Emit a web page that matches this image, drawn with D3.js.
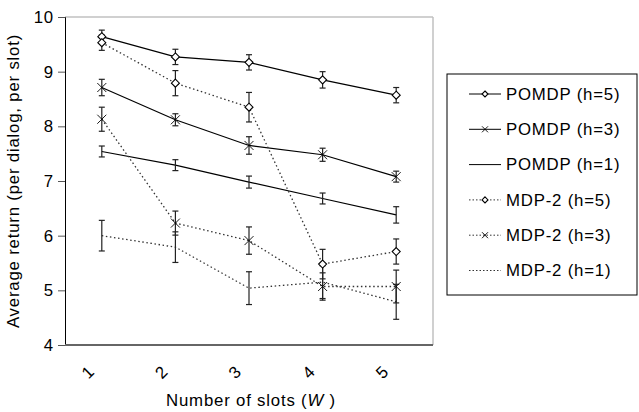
<!DOCTYPE html>
<html>
<head>
<meta charset="utf-8">
<script src="https://cdn.jsdelivr.net/npm/d3@7"></script>
<style>
  body { margin: 0; background: #fff; }
  svg { font-family: "Liberation Sans", Arial, sans-serif; }
  svg text { letter-spacing: 0.8px; }
</style>
</head>
<body>
<div id="chart"></div>
<script>
// values
var slots = ["1", "2", "3", "4", "5"];
var yTicks = [4, 5, 6, 7, 8, 9, 10];

var seriesNames = ["POMDP (h=5)", "POMDP (h=3)", "POMDP (h=1)", "MDP-2 (h=5)", "MDP-2 (h=3)", "MDP-2 (h=1)"];
var seriesMarker = ["diamond", "cross", "none", "diamond", "cross", "none"];
var seriesDotted = [false, false, false, true, true, true];

var pomdp5 = [9.64, 9.27, 9.17, 8.85, 8.57];
var pomdp3 = [8.71, 8.12, 7.65, 7.48, 7.08];
var pomdp1 = [7.54, 7.29, 6.98, 6.68, 6.38];
var mdp5   = [9.53, 8.79, 8.35, 5.48, 5.71];
var mdp3   = [8.13, 6.23, 5.91, 5.07, 5.07];
var mdp1   = [6.00, 5.79, 5.04, 5.15, 4.79];

var pomdp5Err = [0.12, 0.14, 0.14, 0.15, 0.14];
var pomdp3Err = [0.15, 0.11, 0.16, 0.12, 0.10];
var pomdp1Err = [0.10, 0.10, 0.11, 0.10, 0.15];
var mdp5Err   = [0.14, 0.23, 0.27, 0.27, 0.23];
var mdp3Err   = [0.22, 0.22, 0.25, 0.25, 0.30];
var mdp1Err   = [0.28, 0.28, 0.30, 0.30, 0.32];

var allValues = [pomdp5, pomdp3, pomdp1, mdp5, mdp3, mdp1];
var allErrors = [pomdp5Err, pomdp3Err, pomdp1Err, mdp5Err, mdp3Err, mdp1Err];

var W = 639, H = 412;
var fontSize = 16.8;
var margin = {top: 17, right: 206, bottom: 67, left: 65};
var width = W - margin.left - margin.right;   // 368
var height = H - margin.top - margin.bottom;  // 328

var svg = d3.select("#chart").append("svg")
    .attr("width", W)
    .attr("height", H);

var g = svg.append("g")
    .attr("transform", "translate(" + margin.left + "," + margin.top + ")");

var x = d3.scaleBand().domain(slots).range([0, width]);
var y = d3.scaleLinear().domain([4, 10]).range([height, 0]);
var cx = function(i) { return x(slots[i]) + x.bandwidth() / 2; };

// frame: light top/right, dark bottom
g.append("line").attr("x1", 0).attr("x2", width).attr("y1", 0).attr("y2", 0)
    .attr("stroke", "#c0c0c0").attr("stroke-width", 1.5);
g.append("line").attr("x1", width).attr("x2", width).attr("y1", 0).attr("y2", height)
    .attr("stroke", "#c0c0c0").attr("stroke-width", 1.5);

// y axis
var yAxis = d3.axisLeft(y).tickValues(yTicks).tickFormat(d3.format("d")).tickSize(7).tickPadding(4);
var yAxisG = g.append("g").call(yAxis);
yAxisG.select(".domain").attr("stroke", "#000");
yAxisG.selectAll(".tick line").attr("stroke", "#555");
yAxisG.selectAll("text").attr("font-size", fontSize).attr("fill", "#000")
    .attr("font-family", "'Liberation Sans', Arial, sans-serif");

// x axis (bottom line + rotated labels)
g.append("line").attr("x1", 0).attr("x2", width).attr("y1", height).attr("y2", height)
    .attr("stroke", "#666").attr("stroke-width", 2);

g.selectAll(".xlab").data(slots).enter().append("text")
    .attr("class", "xlab")
    .attr("font-size", fontSize)
    .attr("text-anchor", "middle")
    .attr("transform", function(d, i) {
        return "translate(" + (cx(i) - 14) + "," + (height + 27) + ") rotate(-45)";
    })
    .attr("dy", "0.35em")
    .text(function(d) { return d; });

// axis titles
var xt = svg.append("text")
    .attr("x", margin.left + width / 2 + 2)
    .attr("y", 406)
    .attr("text-anchor", "middle")
    .attr("font-size", fontSize);
xt.append("tspan").text("Number of slots (");
xt.append("tspan").attr("font-style", "italic").text("W");
xt.append("tspan").text(" )");

svg.append("text")
    .attr("transform", "translate(19," + (margin.top + height / 2) + ") rotate(-90)")
    .attr("text-anchor", "middle")
    .attr("font-size", fontSize)
    .text("Average return (per dialog, per slot)");

// lines
var line = d3.line()
    .x(function(d, i) { return cx(i); })
    .y(function(d) { return y(d); });

allValues.forEach(function(vals, s) {
    g.append("path")
        .datum(vals)
        .attr("d", line)
        .attr("fill", "none")
        .attr("stroke", seriesDotted[s] ? "#333" : "#000")
        .attr("stroke-width", seriesDotted[s] ? 1.3 : 1.2)
        .attr("stroke-dasharray", seriesDotted[s] ? "1.5,2.6" : null);
});

// error bars
allValues.forEach(function(vals, s) {
    var eg = g.append("g").attr("stroke", "#222").attr("stroke-width", 1.2);
    vals.forEach(function(v, i) {
        var e = allErrors[s][i];
        var px = cx(i);
        eg.append("line").attr("x1", px).attr("x2", px).attr("y1", y(v - e)).attr("y2", y(v + e));
        eg.append("line").attr("x1", px - 3).attr("x2", px + 3).attr("y1", y(v - e)).attr("y2", y(v - e));
        eg.append("line").attr("x1", px - 3).attr("x2", px + 3).attr("y1", y(v + e)).attr("y2", y(v + e));
    });
});

function drawMarker(sel, type, px, py, r) {
    if (type === "diamond") {
        sel.append("path")
            .attr("d", "M" + px + "," + (py - r) + "L" + (px + r) + "," + py + "L" + px + "," + (py + r) + "L" + (px - r) + "," + py + "Z")
            .attr("fill", "#fff").attr("stroke", "#000").attr("stroke-width", 1.1);
    } else if (type === "cross") {
        sel.append("path")
            .attr("d", "M" + (px - r) + "," + (py - r) + "L" + (px + r) + "," + (py + r) + "M" + (px - r) + "," + (py + r) + "L" + (px + r) + "," + (py - r))
            .attr("fill", "none").attr("stroke", "#000").attr("stroke-width", 0.9);
    }
}

// markers
allValues.forEach(function(vals, s) {
    vals.forEach(function(v, i) {
        drawMarker(g, seriesMarker[s], cx(i), y(v), seriesMarker[s] === "cross" ? 4.5 : 4);
    });
});

// legend
var legend = svg.append("g").attr("transform", "translate(447,74)");
legend.append("rect")
    .attr("x", 0).attr("y", 0).attr("width", 190).attr("height", 221)
    .attr("fill", "#fff").attr("stroke", "#000").attr("stroke-width", 1);

seriesNames.forEach(function(name, s) {
    var ly = 20 + s * 35.3;
    legend.append("line")
        .attr("x1", 22).attr("x2", 54).attr("y1", ly).attr("y2", ly)
        .attr("stroke", seriesDotted[s] ? "#333" : "#000")
        .attr("stroke-width", 1)
        .attr("stroke-dasharray", seriesDotted[s] ? "1.5,2" : null);
    drawMarker(legend, seriesMarker[s], 38, ly, 3);
    legend.append("text")
        .attr("x", 59).attr("y", ly)
        .attr("dy", "0.35em")
        .attr("font-size", fontSize)
        .text(name);
});
</script>
</body>
</html>
